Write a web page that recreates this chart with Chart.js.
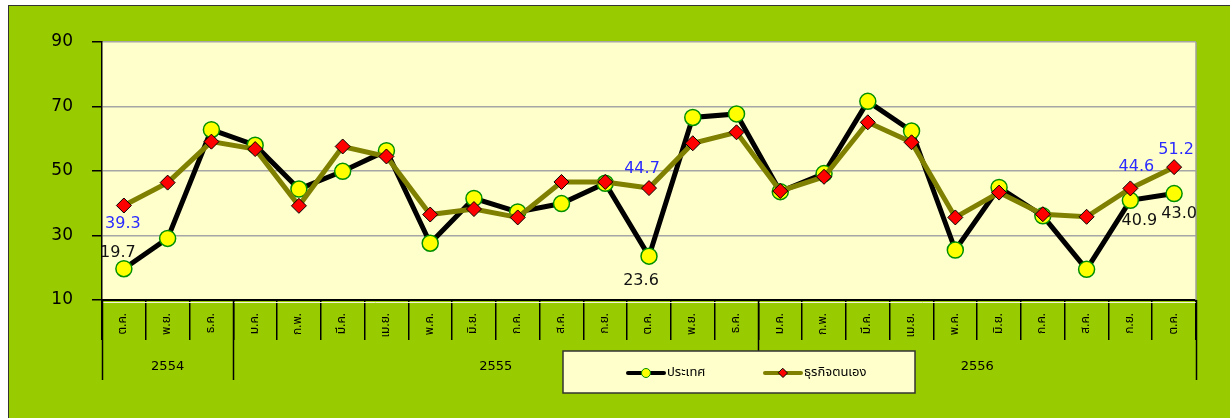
<!DOCTYPE html>
<html>
<head>
<meta charset="utf-8">
<script src="https://cdn.jsdelivr.net/npm/chart.js@4.4.0/dist/chart.umd.min.js"></script>
<style>
  html, body { margin: 0; padding: 0; background: #fff; }
  #frame { position: absolute; left: 8px; top: 5px; width: 1222px; height: 413px;
           background: #99CC00; border-left: 1px solid #333; border-top: 1px solid #333; box-sizing: border-box; }
  #c { position: absolute; left: 0; top: 0; }
</style>
</head>
<body>
<div id="frame"></div>
<canvas id="c" width="1230" height="418"></canvas>
<script>
// months, Oct 2554 .. Oct 2556
const months = ["ต.ค.", "พ.ย.", "ธ.ค.",
  "ม.ค.", "ก.พ.", "มี.ค.", "เม.ย.", "พ.ค.", "มิ.ย.", "ก.ค.", "ส.ค.", "ก.ย.", "ต.ค.", "พ.ย.", "ธ.ค.",
  "ม.ค.", "ก.พ.", "มี.ค.", "เม.ย.", "พ.ค.", "มิ.ย.", "ก.ค.", "ส.ค.", "ก.ย.", "ต.ค."];
const years = ["2554", "2555", "2556"];
const yearMonths = [3, 12, 10];

const country = [19.7, 29.1, 62.8, 58.0, 44.4, 49.9, 56.3, 27.6, 41.5, 37.3, 39.9, 46.2, 23.6,
  66.6, 67.7, 43.6, 49.2, 71.6, 62.4, 25.5, 44.9, 36.1, 19.5, 40.9, 43.0];
const business = [39.3, 46.4, 59.1, 56.8, 39.2, 57.6, 54.5, 36.5, 38.2, 35.6, 46.6, 46.6, 44.7,
  58.6, 62.0, 43.8, 48.2, 65.1, 58.9, 35.6, 43.3, 36.6, 35.8, 44.6, 51.2];
const yTicks = [10, 30, 50, 70, 90];

const countryLabelAt = [0, 12, 23, 24];
const businessLabelAt = [0, 12, 23, 24];

const thaiFont = "Tahoma, 'Noto Sans Thai', Loma, Garuda, 'DejaVu Sans', sans-serif";

const extras = {
  id: "extras",
  beforeDraw(chart) {
    const a = chart.chartArea, ctx = chart.ctx;
    ctx.save();
    ctx.fillStyle = "#FFFFCC";
    ctx.fillRect(a.left, a.top, a.right - a.left, a.bottom - a.top);
    ctx.restore();
  },
  afterDraw(chart) {
    const ctx = chart.ctx, a = chart.chartArea, x = chart.scales.x;
    ctx.save();
    // right frame of plot
    ctx.strokeStyle = "#A0A0A0";
    ctx.lineWidth = 1.5;
    ctx.beginPath();
    ctx.moveTo(a.right, a.top);
    ctx.lineTo(a.right, a.bottom);
    ctx.stroke();

    // thin light line under the axis
    ctx.strokeStyle = "#F4F4D8";
    ctx.lineWidth = 1;
    ctx.beginPath();
    ctx.moveTo(a.left, a.bottom + 2.5);
    ctx.lineTo(a.right, a.bottom + 2.5);
    ctx.stroke();

    // year group separators and labels
    const step = (x.right - x.left) / months.length;
    ctx.strokeStyle = "#000";
    ctx.lineWidth = 1.5;
    ctx.fillStyle = "#000";
    ctx.font = "13px 'DejaVu Sans'";
    ctx.textAlign = "center";
    ctx.textBaseline = "middle";
    let start = 0;
    const edges = [0];
    yearMonths.forEach((n, i) => {
      const l = x.left + start * step, r = x.left + (start + n) * step;
      ctx.fillText(years[i], (l + r) / 2, x.top + 67);
      start += n;
      edges.push(start);
    });
    edges.forEach((e) => {
      const px = Math.round(x.left + e * step) + 0.5;
      ctx.beginPath();
      ctx.moveTo(px, x.top);
      ctx.lineTo(px, x.top + 80);
      ctx.stroke();
    });

    // legend
    const lx = 563, ly = 351, lw = 352, lh = 42;
    ctx.fillStyle = "#FFFFCC";
    ctx.fillRect(lx, ly, lw, lh);
    ctx.strokeStyle = "#333";
    ctx.lineWidth = 1.5;
    ctx.strokeRect(lx, ly, lw, lh);
    const items = [
      { x: 628, ds: chart.data.datasets[0] },
      { x: 765, ds: chart.data.datasets[1] }
    ];
    const my = ly + 22;
    items.forEach((it) => {
      ctx.strokeStyle = it.ds.borderColor;
      ctx.lineWidth = 4;
      ctx.lineCap = "round";
      ctx.beginPath();
      ctx.moveTo(it.x, my);
      ctx.lineTo(it.x + 36, my);
      ctx.stroke();
      ctx.fillStyle = it.ds.pointBackgroundColor;
      ctx.strokeStyle = it.ds.pointBorderColor;
      ctx.lineWidth = 1;
      ctx.beginPath();
      if (it.ds.pointStyle === "circle") {
        ctx.arc(it.x + 18, my, 4.5, 0, Math.PI * 2);
      } else {
        ctx.moveTo(it.x + 18, my - 4.5); ctx.lineTo(it.x + 22.5, my);
        ctx.lineTo(it.x + 18, my + 4.5); ctx.lineTo(it.x + 13.5, my); ctx.closePath();
      }
      ctx.fill();
      ctx.stroke();
      ctx.fillStyle = "#000";
      ctx.font = "13px " + thaiFont;
      ctx.textAlign = "left";
      ctx.fillText(it.ds.label, it.x + 39, my);
    });

    // value labels
    ctx.font = "16px 'DejaVu Sans'";
    ctx.textAlign = "center";
    ctx.textBaseline = "middle";
    const cOff = { 0: [-6, -16], 12: [-8, 25], 23: [9, 20], 24: [5, 20] };
    const bOff = { 0: [-1, 18], 12: [-7, -19], 23: [6, -22], 24: [2, -17] };
    const m0 = chart.getDatasetMeta(0).data, m1 = chart.getDatasetMeta(1).data;
    ctx.fillStyle = "#111";
    countryLabelAt.forEach((i) => {
      const o = cOff[i] || [0, 20];
      ctx.fillText(country[i].toFixed(1), m0[i].x + o[0], m0[i].y + o[1]);
    });
    ctx.fillStyle = "#2B2BFF";
    businessLabelAt.forEach((i) => {
      const o = bOff[i] || [0, -20];
      ctx.fillText(business[i].toFixed(1), m1[i].x + o[0], m1[i].y + o[1]);
    });
    ctx.restore();
  }
};

new Chart(document.getElementById("c"), {
  type: "line",
  data: {
    labels: months,
    datasets: [
      {
        label: "ประเทศ",
        data: country,
        order: 1,
        borderColor: "#000000",
        borderWidth: 5,
        pointStyle: "circle",
        pointRadius: 8,
        pointBackgroundColor: "#FFFF00",
        pointBorderColor: "#009000",
        pointBorderWidth: 1.5,
        tension: 0
      },
      {
        label: "ธุรกิจตนเอง",
        data: business,
        order: 0,
        borderColor: "#808000",
        borderWidth: 5,
        pointStyle: "rectRot",
        pointRadius: 7.5,
        pointBackgroundColor: "#FF0000",
        pointBorderColor: "#000000",
        pointBorderWidth: 1,
        tension: 0
      }
    ]
  },
  options: {
    responsive: false,
    animation: false,
    devicePixelRatio: 1,
    layout: { padding: { left: 0, right: 34, top: 42, bottom: 0 } },
    plugins: { legend: { display: false }, tooltip: { enabled: false } },
    scales: {
      x: {
        offset: true,
        afterFit: (s) => { s.height = 118; },
        grid: { offset: true, drawOnChartArea: false, drawTicks: true, tickLength: 40, color: "#000", lineWidth: 1.5 },
        border: { display: true, color: "#000", width: 2 },
        ticks: {
          autoSkip: false, maxRotation: 90, minRotation: 90, padding: -27,
          color: "#000", font: { size: 12, family: thaiFont }
        }
      },
      y: {
        min: 10,
        max: 90,
        afterFit: (s) => { s.width = 102; },
        afterBuildTicks: (s) => { s.ticks = yTicks.map((v) => ({ value: v })); },
        grid: { color: "#A6A6A6", lineWidth: 1.5, drawTicks: true, tickLength: 10, tickColor: "#000" },
        border: { display: true, color: "#000", width: 1.5 },
        ticks: { padding: 19, color: "#000", font: { size: 17, family: "'DejaVu Sans'" } }
      }
    }
  },
  plugins: [extras]
});
</script>
</body>
</html>
